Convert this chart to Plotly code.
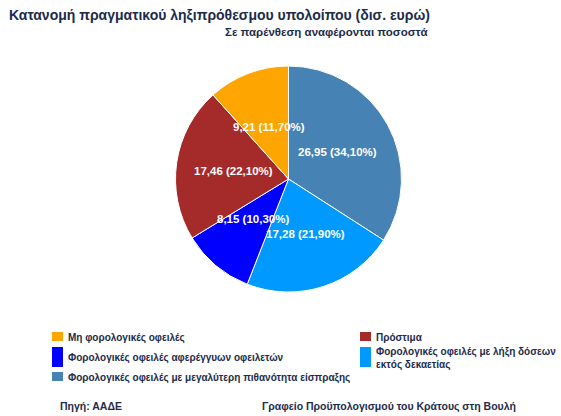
import math
import plotly.graph_objects as go

W, H = 561, 416

# ---- data (legend order) ----
labels = [
    "Μη φορολογικές οφειλές",
    "Πρόστιμα",
    "Φορολογικές οφειλές αφερέγγυων οφειλετών",
    "Φορολογικές οφειλές με λήξη δόσεων<br>εκτός δεκαετίας",
    "Φορολογικές οφειλές με μεγαλύτερη πιθανότητα είσπραξης",
]
values = [9.21, 17.46, 8.15, 17.28, 26.95]
percents = [11.70, 22.10, 10.30, 21.90, 34.10]
colors = ["#FFA500", "#A52A2A", "#0000FF", "#0099FF", "#4682B4"]

title_text = "Κατανομή πραγματικού ληξιπρόθεσμου υπολοίπου (δισ. ευρώ)"
subtitle_text = "Σε παρένθεση αναφέρονται ποσοστά"
source_text = "Πηγή: ΑΑΔΕ"
credit_text = "Γραφείο Προϋπολογισμού του Κράτους στη Βουλή"

TXT = "#1c2b4a"
FONT = "Liberation Sans, Arial, sans-serif"

# pie geometry (pixels)
cx, cy, r = 288.5, 179, 113
LABEL_R = 0.49  # label distance as fraction of radius
LABEL_FS = 11.5

# slice order on the pie: clockwise from 12 o'clock, reverse of legend order
p_labels = labels[::-1]
p_values = values[::-1]
p_perc = percents[::-1]
p_colors = colors[::-1]

fig = go.Figure(go.Pie(
    labels=p_labels,
    values=p_values,
    customdata=p_perc,
    sort=False,
    direction="clockwise",
    rotation=0,
    marker=dict(colors=p_colors, line=dict(color="white", width=1)),
    textinfo="none",
    hoverinfo="label+value",
    domain=dict(x=[(cx - r) / W, (cx + r) / W], y=[1 - (cy + r) / H, 1 - (cy - r) / H]),
    showlegend=False,
))


def px_x(x):
    return x / W


def px_y(y):
    return 1 - y / H


def fmt(v):
    return f"{v:.2f}".replace(".", ",")


annotations = []
shapes = []

# slice labels at the middle angle of each slice
total = sum(p_values)
acc = 0.0
boxes = []
for v, p in zip(p_values, p_perc):
    mid = (acc + v / 2) / total * 2 * math.pi
    acc += v
    txt = f"{fmt(v)} ({fmt(p)}%)"
    lx = cx + LABEL_R * r * math.sin(mid)
    ly = cy - LABEL_R * r * math.cos(mid)
    wbox = len(txt) * LABEL_FS * 0.5
    boxes.append([lx, ly, wbox, txt])

# simple vertical collision resolution
hbox = LABEL_FS * 1.25
for _ in range(20):
    for i in range(len(boxes)):
        for j in range(i + 1, len(boxes)):
            a, b = boxes[i], boxes[j]
            if abs(a[0] - b[0]) < (a[2] + b[2]) / 2 and abs(a[1] - b[1]) < hbox:
                need = (hbox - abs(a[1] - b[1])) / 2
                if a[1] <= b[1]:
                    a[1] -= need
                    b[1] += need
                else:
                    a[1] += need
                    b[1] -= need

for lx, ly, _, txt in boxes:
    annotations.append(dict(text="<b>" + txt + "</b>", x=px_x(lx), y=px_y(ly), xanchor="center",
                            yanchor="middle", showarrow=False,
                            font=dict(family=FONT, size=LABEL_FS, color="white")))

annotations.append(dict(text="<b>" + title_text + "</b>", x=px_x(7), y=px_y(15), xanchor="left",
                        yanchor="middle", showarrow=False, font=dict(family=FONT, size=14, color=TXT)))
annotations.append(dict(text="<b>" + subtitle_text + "</b>", x=px_x(429), y=px_y(32), xanchor="right",
                        yanchor="middle", showarrow=False, font=dict(family=FONT, size=11.5, color=TXT)))
annotations.append(dict(text="<b>" + source_text + "</b>", x=px_x(58), y=px_y(406), xanchor="left",
                        yanchor="middle", showarrow=False, font=dict(family=FONT, size=10.5, color=TXT)))
annotations.append(dict(text="<b>" + credit_text + "</b>", x=px_x(260), y=px_y(406), xanchor="left",
                        yanchor="middle", showarrow=False, font=dict(family=FONT, size=10.5, color=TXT)))

# manual legend: two columns
col_x = [52, 360]
rows = [(332, 341), (347, 367), (372, 381)]  # (top, bottom) of each row's marker
for i, (lab, col) in enumerate(zip(labels, colors)):
    row, c = divmod(i, 2)
    x0 = col_x[c]
    top, bot = rows[row]
    shapes.append(dict(type="rect", xref="paper", yref="paper",
                       x0=px_x(x0), x1=px_x(x0 + 11), y0=px_y(bot), y1=px_y(top),
                       fillcolor=col, line=dict(width=0)))
    annotations.append(dict(text="<b>" + lab + "</b>", x=px_x(x0 + 14), y=px_y((top + bot) / 2 + 1.2),
                            xanchor="left", yanchor="middle", align="left", showarrow=False,
                            font=dict(family=FONT, size=10, color=TXT)))

fig.update_layout(
    width=W, height=H,
    margin=dict(l=0, r=0, t=0, b=0),
    paper_bgcolor="white",
    plot_bgcolor="white",
    separators=",.",
    annotations=annotations,
    shapes=shapes,
    font=dict(family=FONT, color=TXT),
)

fig.write_html(
    "out.html",
    config={"displayModeBar": False},
    post_script="document.body.style.margin='0';document.body.style.overflow='hidden';",
)
